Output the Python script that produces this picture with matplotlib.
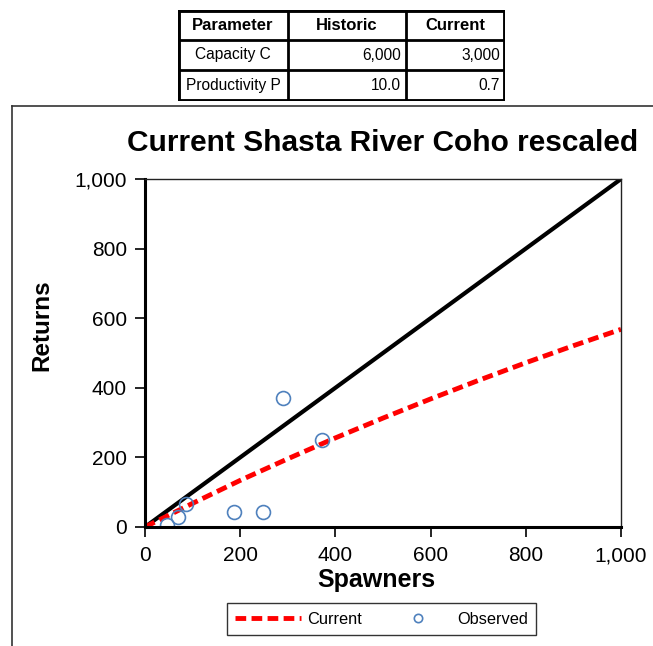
import matplotlib.pyplot as plt
from matplotlib.lines import Line2D
from matplotlib.ticker import FuncFormatter

plt.rcParams['font.family'] = ['Liberation Sans', 'DejaVu Sans']

# Table values
table_cols = ['Parameter', 'Historic', 'Current']
table_rows = [['Capacity C', '6,000', '3,000'],
              ['Productivity P', '10.0', '0.7']]

# Replacement line (1:1)
repl_x = [0, 1000]
repl_y = [0, 1000]

# Current curve
cur_x = [0, 100, 200, 300, 400, 500, 600, 700, 800, 900, 1000]
cur_y = [0, 68, 134, 196, 256, 313, 368, 421, 472, 521, 568]

# Observed points
obs_x = [46, 69, 86, 187, 248, 290, 372]
obs_y = [6, 29, 66, 43, 43, 371, 250]

fig = plt.figure(figsize=(6.53, 6.46), dpi=100)
W, H = 653, 646

# outer chart frame (runs off the right and bottom edges)
fig.add_artist(Line2D([12 / W, 12 / W], [0, 1 - 106 / H], transform=fig.transFigure,
                      color='#333333', lw=1.2))
fig.add_artist(Line2D([12 / W, 1], [1 - 106 / H, 1 - 106 / H], transform=fig.transFigure,
                      color='#333333', lw=1.2))

# table at top
tx0, tx1 = 178, 505
col_edges = [178, 288, 406, 505]
row_edges = [10, 40, 70, 101]
tab = fig.add_axes([tx0 / W, 1 - row_edges[-1] / H, (tx1 - tx0) / W,
                    (row_edges[-1] - row_edges[0]) / H])
tab.set_xlim(tx0, tx1)
tab.set_ylim(row_edges[-1], row_edges[0])
tab.axis('off')
for xe in col_edges[1:-1]:
    tab.plot([xe, xe], [row_edges[0], row_edges[-1]], color='black', lw=2)
for ye in row_edges[1:-1]:
    tab.plot([tx0, tx1], [ye, ye], color='black', lw=2)
tab.plot([tx0, tx1, tx1, tx0, tx0],
         [row_edges[0], row_edges[0], row_edges[-1], row_edges[-1], row_edges[0]],
         color='black', lw=3.5, solid_joinstyle='miter')
for j, name in enumerate(table_cols):
    tab.text((col_edges[j] + col_edges[j + 1]) / 2, (row_edges[0] + row_edges[1]) / 2,
             name, ha='center', va='center', fontsize=12, fontweight='bold')
for i, row in enumerate(table_rows):
    yc = (row_edges[i + 1] + row_edges[i + 2]) / 2
    tab.text((col_edges[0] + col_edges[1]) / 2, yc, row[0], ha='center', va='center',
             fontsize=11.2)
    for j in (1, 2):
        tab.text(col_edges[j + 1] - 5, yc, row[j], ha='right', va='center', fontsize=11.2)

# main axes
ax = fig.add_axes([145 / W, 1 - 527 / H, (621 - 145) / W, (527 - 179) / H])
ax.plot(repl_x, repl_y, color='black', lw=3, solid_capstyle='butt')
ax.plot(cur_x, cur_y, color='red', lw=3.5, ls=(0, (2.2, 1.1)), label='Current')
ax.plot(obs_x, obs_y, ls='none', marker='o', ms=10, mfc='none', mec='#4F81BD',
        mew=1.2, label='Observed')
ax.set_xlim(0, 1000)
ax.set_ylim(0, 1000)
ax.set_xticks(range(0, 1001, 200))
ax.set_yticks(range(0, 1001, 200))
fmt = FuncFormatter(lambda v, p: f'{int(v):,}')
ax.xaxis.set_major_formatter(fmt)
ax.yaxis.set_major_formatter(fmt)
ax.tick_params(direction='out', length=7, width=1.2, labelsize=15)
ax.tick_params(axis='y', pad=6)
ax.tick_params(axis='x', pad=7)
for s in ('left', 'bottom'):
    ax.spines[s].set_linewidth(2.2)
for s in ('top', 'right'):
    ax.spines[s].set_linewidth(1)
    ax.spines[s].set_color('#222222')
ax.set_title('Current Shasta River Coho rescaled', fontsize=21.5, fontweight='bold', pad=20)
ax.set_xlabel('Spawners', fontsize=18, fontweight='bold', labelpad=0)
ax.set_ylabel('Returns', fontsize=17.5, fontweight='bold')
ax.yaxis.set_label_coords(42 / W, 1 - 325 / H, transform=fig.transFigure)
ax.xaxis.set_label_coords(376 / W, 1 - 580 / H, transform=fig.transFigure)
ax.xaxis.label.set_va('center')
ax.yaxis.label.set_va('center')

leg = fig.legend(handles=ax.get_lines()[1:], labels=['Current', 'Observed'],
                 loc='center', bbox_to_anchor=((228 + 535) / 2 / W, 1 - 619 / H),
                 ncol=2, frameon=True, fancybox=False, fontsize=11.8,
                 handlelength=4.0, handletextpad=0.4, columnspacing=1.4,
                 markerscale=0.6, borderpad=0.5)
leg.get_frame().set_edgecolor('black')
leg.get_frame().set_linewidth(1)

fig.savefig('out.png', dpi=100)
